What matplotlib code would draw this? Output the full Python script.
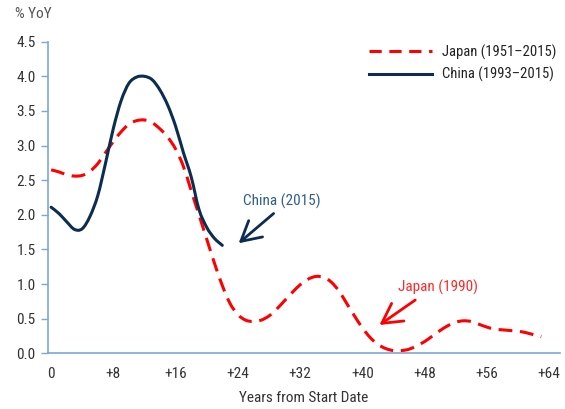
import numpy as np
import matplotlib
matplotlib.use("Agg")
import matplotlib.pyplot as plt
from matplotlib import font_manager
from matplotlib.path import Path
from matplotlib.patches import PathPatch
from matplotlib.lines import Line2D

names = {f.name for f in font_manager.fontManager.ttflist}
for cand in ["Roboto Condensed", "Archivo Narrow", "Barlow Semi Condensed", "Liberation Sans Narrow", "Liberation Sans"]:
    if cand in names:
        break
plt.rcParams["font.family"] = [cand, "DejaVu Sans"]

# years from start date
japan_years = list(range(0, 64))
japan_vals = [2.65, 2.62, 2.58, 2.56, 2.57, 2.63, 2.74, 2.90, 3.06, 3.20,
              3.31, 3.36, 3.37, 3.33, 3.24, 3.12, 2.95, 2.70, 2.35, 2.00,
              1.65, 1.30, 0.98, 0.72, 0.56, 0.48, 0.46, 0.48, 0.54, 0.64,
              0.76, 0.88, 0.99, 1.07, 1.11, 1.10, 1.03, 0.90, 0.72, 0.54,
              0.37, 0.23, 0.13, 0.07, 0.04, 0.04, 0.06, 0.11, 0.17, 0.25,
              0.33, 0.40, 0.45, 0.47, 0.46, 0.42, 0.38, 0.35, 0.34, 0.33,
              0.32, 0.30, 0.27, 0.24]
china_years = list(range(0, 23))
china_vals = [2.11, 2.02, 1.90, 1.79, 1.80, 1.98, 2.28, 2.75, 3.25, 3.65,
              3.90, 3.99, 4.00, 3.95, 3.80, 3.58, 3.28, 2.90, 2.55, 2.08,
              1.82, 1.66, 1.56]

xticks = [0, 8, 16, 24, 32, 40, 48, 56, 64]
xtick_labels = ["0", "+8", "+16", "+24", "+32", "+40", "+48", "+56", "+64"]
yticks = [0.0, 0.5, 1.0, 1.5, 2.0, 2.5, 3.0, 3.5, 4.0, 4.5]

red = "#ff0000"
navy = "#0c2d52"
axis_col = "#7fa6d4"


def smooth_path(xs, ys):
    # excel-style smoothed line: catmull-rom segments as cubic beziers
    p = np.column_stack([xs, ys]).astype(float)
    n = len(p)
    verts = [p[0]]
    codes = [Path.MOVETO]
    for i in range(n - 1):
        p0 = p[i - 1] if i > 0 else p[i]
        p3 = p[i + 2] if i + 2 < n else p[i + 1]
        c1 = p[i] + (p[i + 1] - p0) / 6
        c2 = p[i + 1] - (p3 - p[i]) / 6
        verts += [c1, c2, p[i + 1]]
        codes += [Path.CURVE4] * 3
    return Path(verts, codes)


fig = plt.figure(figsize=(5.65, 4.09), dpi=100)
ax = fig.add_axes([0.085, 0.136, 0.906, 0.762])

ax.add_patch(PathPatch(smooth_path(japan_years, japan_vals), fill=False,
                       edgecolor=red, lw=2.2, linestyle=(0, (4.5, 2.5)),
                       capstyle="butt"))
ax.add_patch(PathPatch(smooth_path(china_years, china_vals), fill=False,
                       edgecolor=navy, lw=2.2, capstyle="round"))

ax.set_xlim(-0.4, 65.4)
ax.set_ylim(0, 4.5)
ax.set_xticks(xticks)
ax.set_xticklabels(xtick_labels)
ax.set_yticks(yticks)
ax.set_yticklabels([f"{v:.1f}" for v in yticks])

for s in ["top", "right"]:
    ax.spines[s].set_visible(False)
for s in ["left", "bottom"]:
    ax.spines[s].set_color(axis_col)
    ax.spines[s].set_linewidth(1.2)

ax.tick_params(axis="x", length=0, pad=10, labelsize=11, labelcolor="#333333")
ax.tick_params(axis="y", length=5, width=1, color=axis_col, pad=4,
               labelsize=11, labelcolor="#333333")

ax.set_xlabel("Years from Start Date", fontsize=11, color="#333333", labelpad=7)
fig.text(0.027, 0.965, "% YoY", fontsize=11, color="#555555", va="center")

# annotations
arrow = "->,head_length=1.0,head_width=0.55"
ax.text(29.6, 2.2, "China (2015)", color="#2d5f8c", fontsize=11,
        ha="center", va="center")
ax.annotate("", xy=(24.1, 1.59), xytext=(28.6, 2.02),
            arrowprops=dict(arrowstyle=arrow, color=navy, lw=2,
                            mutation_scale=14, shrinkA=0, shrinkB=0))
ax.text(49.7, 0.96, "Japan (1990)", color="#ff2a2a", fontsize=11,
        ha="center", va="center")
ax.annotate("", xy=(42.2, 0.41), xytext=(46.8, 0.77),
            arrowprops=dict(arrowstyle=arrow, color=red, lw=2,
                            mutation_scale=14, shrinkA=0, shrinkB=0))

handles = [Line2D([], [], color=red, lw=2.2, dashes=(4, 2.5)),
           Line2D([], [], color=navy, lw=2.2)]
ax.legend(handles, ["Japan (1951\u20132015)", "China (1993\u20132015)"],
          loc="upper right", bbox_to_anchor=(1.01, 1.02), frameon=False,
          fontsize=10.5, handlelength=4.3, handletextpad=0.7,
          labelcolor="#222222", borderaxespad=0.2)

fig.savefig("out.png", dpi=100)
